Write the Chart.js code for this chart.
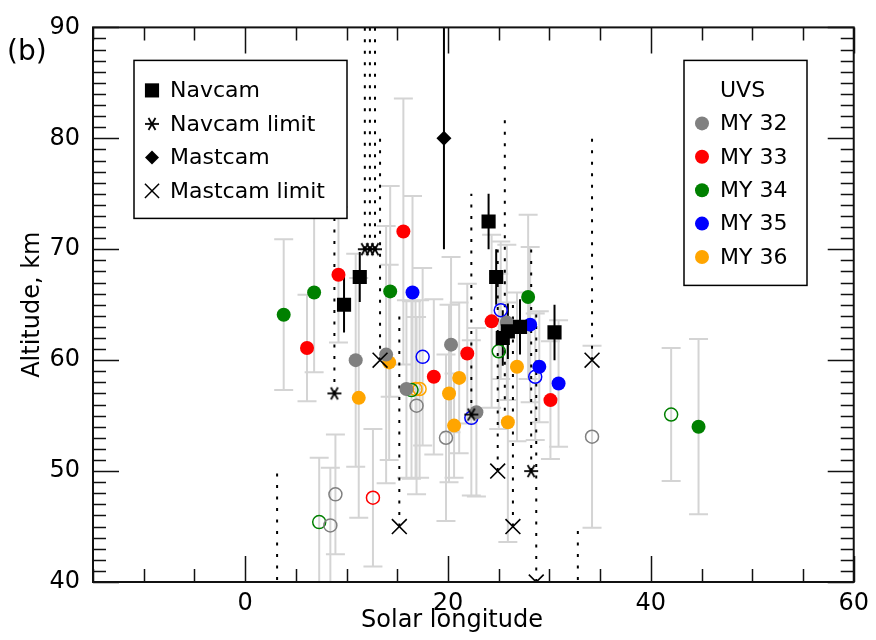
<!DOCTYPE html>
<html>
<head>
<meta charset="utf-8">
<script src="https://cdn.jsdelivr.net/npm/chart.js@4.4.0/dist/chart.umd.min.js"></script>
<style>
  html, body { margin: 0; padding: 0; background: #fff; }
</style>
</head>
<body>
<canvas id="chart" width="876" height="640"></canvas>
<script>
// axis ranges
const xMin = -15, xMax = 60;
const yMin = 40, yMax = 90;
const xTickLabels = [0, 20, 40, 60];

// UVS retrievals: [solar longitude, altitude km, error km]
const my32Filled = [[10.9, 60.0, 9.6], [13.9, 60.5, 11.6], [15.9, 57.4, 8], [20.3, 61.4, 7.9], [22.8, 55.3, 7.6], [25.8, 63.4, 7]];
const my32Open = [[8.9, 47.9, 5.4], [8.4, 45.1, 5.2], [16.9, 55.9, 8], [19.8, 53.0, 7.5], [34.2, 53.1, 8.2]];
const my33Filled = [[9.2, 67.7, 6.1], [15.6, 71.6, 12], [6.1, 61.1, 4.8], [18.6, 58.5, 7], [21.9, 60.6, 6.3], [24.3, 63.5, 7.8], [30.1, 56.4, 5.3]];
const my33Open = [[12.6, 47.6, 6.2]];
const my34Filled = [[3.8, 64.1, 6.8], [6.8, 66.1, 7.2], [14.3, 66.2, 9.5], [27.9, 65.7, 7.4], [44.7, 54.0, 7.9]];
const my34Open = [[7.3, 45.4, 5.8], [16.4, 57.3, 8], [25.0, 60.8, 7], [42.0, 55.1, 6]];
const my35Filled = [[16.5, 66.1, 8.7], [28.1, 63.2, 7], [29.0, 59.4, 5.0], [30.9, 57.9, 5.7]];
const my35Open = [[17.5, 60.3, 8], [22.3, 54.8, 7], [25.2, 64.5, 6.2], [28.6, 58.5, 5.7]];
const my36Filled = [[11.2, 56.6, 10.8], [14.2, 59.8, 8.8], [21.1, 58.4, 6.8], [20.1, 57.0, 8], [20.6, 54.1, 4.7], [26.8, 59.4, 6.7], [25.9, 54.4, 10.8]];
const my36Open = [[16.8, 57.4, 8], [17.2, 57.4, 8]];

// rover observations
const navcam = [[9.75, 65.0, 2.5], [11.3, 67.5, 2.25], [24.0, 72.5, 2.5], [24.75, 67.5, 2.5], [25.4, 62.0, 2.5], [25.9, 62.6, 2.5], [27.1, 63.0, 2.5], [30.5, 62.5, 2.5]];
// limits: [solar longitude, altitude, top of dotted range]
const navcamLimit = [[8.8, 57.0, 72.8], [11.8, 70, 95], [12.3, 70, 95], [12.8, 70, 95], [22.3, 55.1, 75], [28.2, 50, 70]];
const mastcam = [[19.6, 80, 10]];
const mastcamLimit = [[13.3, 60, 80], [15.2, 45, 64.6], [24.9, 50, 70], [26.4, 45, 65.7], [28.7, 40, 64.2], [34.2, 60, 80]];
// dotted ranges whose symbol is hidden or off the plot: [Ls, from, to]
const bareLimits = [[3.15, 35, 49.8], [25.6, 54.4, 81.7], [32.8, 35, 44.7]];

const uvsGroups = [
  { label: 'MY 32', color: '#808080', filled: my32Filled, open: my32Open },
  { label: 'MY 33', color: '#ff0000', filled: my33Filled, open: my33Open },
  { label: 'MY 34', color: '#008000', filled: my34Filled, open: my34Open },
  { label: 'MY 35', color: '#0000ff', filled: my35Filled, open: my35Open },
  { label: 'MY 36', color: '#ffa500', filled: my36Filled, open: my36Open }
];

const FONT = 'DejaVu Sans';
Chart.defaults.font.family = FONT;
Chart.defaults.color = '#000';

function pts(arr) {
  return arr.map(d => ({ x: d[0], y: d[1] }));
}

// six-armed asterisk for "Navcam limit"
function makeStar(size, lw) {
  const c = document.createElement('canvas');
  c.width = c.height = size;
  const g = c.getContext('2d');
  g.strokeStyle = '#000';
  g.lineWidth = lw;
  const r = size / 2 - 1, m = size / 2;
  for (let k = 0; k < 3; k++) {
    const a = k * Math.PI / 3;
    g.beginPath();
    g.moveTo(m - r * Math.cos(a), m - r * Math.sin(a));
    g.lineTo(m + r * Math.cos(a), m + r * Math.sin(a));
    g.stroke();
  }
  return c;
}
const starImg = makeStar(16, 1.8);

const blackSets = [
  { label: 'Navcam', data: pts(navcam), pointStyle: 'rect', pointRadius: 10, backgroundColor: '#000', borderColor: '#000', borderWidth: 0 },
  { label: 'Navcam limit', data: pts(navcamLimit), pointStyle: starImg, pointRadius: 7 },
  { label: 'Mastcam', data: pts(mastcam), pointStyle: 'rectRot', pointRadius: 7.5, backgroundColor: '#000', borderColor: '#000', borderWidth: 0 },
  { label: 'Mastcam limit', data: pts(mastcamLimit), pointStyle: 'crossRot', pointRadius: 10.5, borderColor: '#000', borderWidth: 1.6 }
];

const uvsSets = [];
uvsGroups.forEach(g => {
  uvsSets.push({ label: g.label, data: pts(g.filled), pointStyle: 'circle', pointRadius: 7, backgroundColor: g.color, borderColor: g.color, borderWidth: 0 });
  uvsSets.push({ label: g.label + ' open', data: pts(g.open), pointStyle: 'circle', pointRadius: 6.5, backgroundColor: 'rgba(0,0,0,0)', borderColor: g.color, borderWidth: 1.5 });
});

const datasets = blackSets.concat(uvsSets).map(d => Object.assign({ showLine: false, clip: 0, pointHoverRadius: d.pointRadius }, d));

function vbar(ctx, x, y, lon, lo, hi, cap) {
  const px = x.getPixelForValue(lon);
  const p1 = y.getPixelForValue(lo), p2 = y.getPixelForValue(hi);
  ctx.moveTo(px, p1); ctx.lineTo(px, p2);
  if (cap) {
    ctx.moveTo(px - cap, p1); ctx.lineTo(px + cap, p1);
    ctx.moveTo(px - cap, p2); ctx.lineTo(px + cap, p2);
  }
}

// error bars and limit lines go under the symbols
const underlay = {
  id: 'underlay',
  beforeDatasetsDraw(chart) {
    const { ctx, chartArea: a, scales: { x, y } } = chart;
    ctx.save();
    ctx.beginPath();
    ctx.rect(a.left, a.top, a.right - a.left, a.bottom - a.top);
    ctx.clip();

    ctx.strokeStyle = '#d4d4d4';
    ctx.lineWidth = 2;
    ctx.beginPath();
    uvsGroups.forEach(g => {
      g.filled.concat(g.open).forEach(d => vbar(ctx, x, y, d[0], d[1] - d[2], d[1] + d[2], 9.5));
    });
    ctx.stroke();

    ctx.strokeStyle = '#000';
    ctx.lineWidth = 2;
    ctx.setLineDash([3, 8.5]);
    ctx.beginPath();
    navcamLimit.concat(mastcamLimit, bareLimits).forEach(d => vbar(ctx, x, y, d[0], d[1], d[2], 0));
    ctx.stroke();

    ctx.setLineDash([]);
    ctx.beginPath();
    navcam.concat(mastcam).forEach(d => vbar(ctx, x, y, d[0], d[1] - d[2], d[1] + d[2], 0));
    ctx.stroke();
    ctx.restore();
  }
};

// inward ticks on all four sides plus the frame
const frameTicks = {
  id: 'frameTicks',
  afterDatasetsDraw(chart) {
    const { ctx, chartArea: a, scales: { x, y } } = chart;
    ctx.save();
    ctx.strokeStyle = '#111';
    ctx.lineWidth = 1.5;
    ctx.beginPath();
    for (let v = xMin; v <= xMax; v += 5) {
      const px = Math.round(x.getPixelForValue(v)) + 0.5;
      const len = v % 20 === 0 ? 26 : 13;
      ctx.moveTo(px, a.bottom); ctx.lineTo(px, a.bottom - len);
      ctx.moveTo(px, a.top); ctx.lineTo(px, a.top + len);
    }
    for (let v = yMin; v <= yMax; v += 1) {
      const py = Math.round(y.getPixelForValue(v)) + 0.5;
      const len = v % 10 === 0 ? 26 : 13;
      ctx.moveTo(a.left, py); ctx.lineTo(a.left + len, py);
      ctx.moveTo(a.right, py); ctx.lineTo(a.right - len, py);
    }
    ctx.stroke();
    ctx.lineWidth = 2;
    ctx.strokeRect(a.left, a.top, a.right - a.left, a.bottom - a.top);
    ctx.restore();
  }
};

// the two boxed legends, the x title and the panel letter
const boxLegends = {
  id: 'boxLegends',
  afterDraw(chart) {
    const ctx = chart.ctx;
    const a = chart.chartArea;
    ctx.save();
    ctx.fillStyle = '#fff';
    ctx.strokeStyle = '#000';
    ctx.lineWidth = 1.5;

    // rover legend
    const L = { x: a.left + 41, y: a.top + 33, w: 213, h: 158 };
    ctx.fillRect(L.x, L.y, L.w, L.h);
    ctx.strokeRect(L.x, L.y, L.w, L.h);
    ctx.font = '22px ' + FONT;
    ctx.textBaseline = 'middle';
    blackSets.forEach((s, i) => {
      const cy = L.y + 30 + i * 33.5;
      ctx.fillStyle = '#000';
      ctx.strokeStyle = '#000';
      ctx.lineWidth = 1.5;
      const r = s.pointStyle === 'rect' ? 10 : s.pointStyle === 'crossRot' ? 10 : 7;
      Chart.helpers.drawPoint(ctx, { pointStyle: s.pointStyle, radius: r, borderWidth: s.borderWidth === 0 ? 0 : 1.5, rotation: 0 }, L.x + 18, cy);
      ctx.fillText(s.label, L.x + 36, cy + 1);
    });

    // UVS legend
    const R = { x: 684, y: a.top + 33, w: 123, h: 225 };
    ctx.fillStyle = '#fff';
    ctx.strokeStyle = '#000';
    ctx.lineWidth = 1.5;
    ctx.fillRect(R.x, R.y, R.w, R.h);
    ctx.strokeRect(R.x, R.y, R.w, R.h);
    ctx.fillStyle = '#000';
    ctx.fillText('UVS', R.x + 36, R.y + 31);
    uvsGroups.forEach((g, i) => {
      const cy = R.y + 63 + i * 33.4;
      ctx.fillStyle = g.color;
      ctx.beginPath();
      ctx.arc(R.x + 18, cy, 7, 0, Math.PI * 2);
      ctx.fill();
      ctx.fillStyle = '#000';
      ctx.fillText(g.label, R.x + 36, cy + 1);
    });

    // x title sits under the 20 tick in the original
    ctx.font = '24px ' + FONT;
    ctx.textAlign = 'center';
    ctx.fillText('Solar longitude', 452, 621);

    ctx.textAlign = 'left';
    ctx.font = '28px ' + FONT;
    ctx.fillText('(b)', 7, 53);
    ctx.restore();
  }
};

new Chart(document.getElementById('chart'), {
  type: 'scatter',
  data: { datasets: datasets },
  options: {
    responsive: false,
    animation: false,
    events: [],
    layout: { padding: { top: 20, right: 21, left: 0, bottom: 0 } },
    plugins: { legend: { display: false }, tooltip: { enabled: false } },
    scales: {
      x: {
        type: 'linear', min: xMin, max: xMax,
        border: { display: false },
        grid: { display: false, drawTicks: false },
        ticks: {
          stepSize: 5, autoSkip: false, maxRotation: 0, padding: 7,
          font: { size: 24 },
          callback: v => xTickLabels.includes(v) ? String(v) : ''
        },
        title: { display: false },
        afterFit: s => { s.height = 58; }
      },
      y: {
        type: 'linear', min: yMin, max: yMax,
        border: { display: false },
        grid: { display: false, drawTicks: false },
        ticks: { stepSize: 10, padding: 13, font: { size: 24 } },
        title: { display: true, text: 'Altitude, km', font: { size: 24 }, padding: { top: 18, bottom: 0 } },
        afterFit: s => { s.width = 93; }
      }
    }
  },
  plugins: [underlay, frameTicks, boxLegends]
});
</script>
</body>
</html>
